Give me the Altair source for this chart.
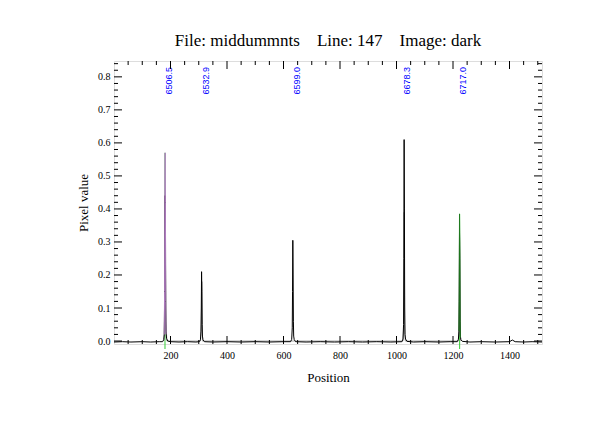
import altair as alt
import pandas as pd

# ---- data ----
spec_pos = [0, 30, 60, 100, 130, 160, 172, 176, 178, 179, 180, 181, 182, 183, 184, 186, 190,
            200, 230, 260, 290, 302, 306, 308, 309, 310, 311, 312, 313, 315, 320,
            350, 400, 450, 500, 550, 600, 625, 629, 631, 632, 633, 634, 635, 636, 638, 643,
            680, 730, 780, 830, 880, 930, 980, 1019, 1023, 1025, 1026, 1027, 1028, 1029, 1030, 1032, 1037,
            1060, 1100, 1150, 1190, 1215, 1219, 1221, 1222, 1223, 1224, 1225, 1226, 1228, 1233,
            1260, 1300, 1350, 1400, 1410, 1420, 1450, 1480, 1515]
spec_val = [-0.003, -0.002, -0.003, -0.002, -0.003, -0.002, -0.002, 0.004, 0.02, 0.12, 0.44, 0.44, 0.30, 0.10, 0.03, 0.008, 0.0,
            -0.002, -0.003, -0.002, -0.003, -0.002, 0.004, 0.03, 0.10, 0.21, 0.15, 0.05, 0.015, 0.004, -0.002,
            -0.003, -0.002, -0.003, -0.002, -0.003, -0.002, -0.002, 0.005, 0.04, 0.15, 0.305, 0.20, 0.06, 0.015, 0.004, -0.002,
            -0.003, -0.002, -0.003, -0.002, -0.003, -0.002, -0.003, -0.002, 0.006, 0.05, 0.25, 0.61, 0.40, 0.10, 0.02, 0.006, -0.001,
            -0.003, -0.002, -0.003, -0.002, -0.002, 0.005, 0.03, 0.12, 0.33, 0.25, 0.06, 0.015, 0.004, -0.001,
            -0.003, -0.002, -0.003, -0.002, 0.003, -0.002, -0.003, -0.002, -0.003]

purple_pos = [178, 179, 180, 181, 182, 183, 184]
purple_val = [0.02, 0.15, 0.50, 0.57, 0.42, 0.12, 0.02]

green_pos = [1221, 1222, 1223, 1224, 1225, 1226]
green_val = [0.03, 0.15, 0.385, 0.30, 0.07, 0.01]

grey_pos = [177, 180, 182, 184, 187, 306, 309, 311, 313, 1023, 1026, 1027, 1029, 1031, 1219, 1222, 1223, 1225, 1227]
grey_val = [0.0, 0.10, 0.39, 0.06, 0.0, 0.0, 0.05, 0.18, 0.0, 0.0, 0.05, 0.39, 0.05, 0.0, 0.0, 0.05, 0.25, 0.03, 0.0]

marker_pos = [180.5, 1223.5]
marker_top = [0.57, 0.385]

line_pos = [180.5, 310.5, 633.5, 1022.5, 1220.5]
line_lbl = ["6506.5", "6532.9", "6599.0", "6678.3", "6717.0"]

x_major = [200, 400, 600, 800, 1000, 1200, 1400]
x_minor = [v for v in range(50, 1515, 50) if v % 200 != 0]
y_major = [0.0, 0.1, 0.2, 0.3, 0.4, 0.5, 0.6, 0.7, 0.8]
y_minor = [0.02, 0.04, 0.06, 0.08, 0.12, 0.14, 0.16, 0.18, 0.22, 0.24, 0.26, 0.28,
           0.32, 0.34, 0.36, 0.38, 0.42, 0.44, 0.46, 0.48, 0.52, 0.54, 0.56, 0.58,
           0.62, 0.64, 0.66, 0.68, 0.72, 0.74, 0.76, 0.78, 0.82, 0.84]

title_text = "File: middummnts\u00a0\u00a0\u00a0\u00a0Line: 147\u00a0\u00a0\u00a0\u00a0Image: dark"

W, H = 428, 283
XD = [0, 1515]
YD = [-0.009, 0.848]
xs = alt.Scale(domain=XD, nice=False, zero=False)
ys = alt.Scale(domain=YD, nice=False, zero=False)
FONT = "Liberation Serif"

XAX = alt.Axis(values=x_major, format="d", ticks=False, domain=False, grid=False,
               labelFont=FONT, labelFontSize=10, labelColor="black",
               labelPadding=6, titleFont=FONT, titleFontSize=13,
               titleFontWeight="normal", titleColor="black", titlePadding=11)
YAX = alt.Axis(values=y_major, format=".1f", ticks=False, domain=False, grid=False,
               labelFont=FONT, labelFontSize=10, labelColor="black",
               labelPadding=4, titleFont=FONT, titleFontSize=13,
               titleFontWeight="normal", titleColor="black", titlePadding=7)


def X(f="pos"):
    return alt.X(f"{f}:Q", scale=xs, axis=XAX, title="Position")


def Y(f="val"):
    return alt.Y(f"{f}:Q", scale=ys, axis=YAX, title="Pixel value")


spec = pd.DataFrame({"pos": spec_pos, "val": spec_val})
purple = pd.DataFrame({"pos": purple_pos, "val": purple_val})
green = pd.DataFrame({"pos": green_pos, "val": green_val})
grey = pd.DataFrame({"pos": grey_pos, "val": grey_val})
markers = pd.DataFrame({"pos": marker_pos, "val": marker_top})
labels = pd.DataFrame({"pos": line_pos, "lbl": line_lbl})


def ov(df, color, width=1.0):
    return alt.Chart(df).mark_line(color=color, strokeWidth=width, clip=True).encode(x=X(), y=Y())


base_line = ov(spec, "black")
grey_l = ov(grey, "#a8a8a8")
purple_l = ov(purple, "#b07cc0")
green_l = ov(green, "#1f7a1f")

mk = alt.Chart(markers).mark_rule(color="#33cc33", strokeWidth=1).encode(
    x=X(), y=Y(), y2=alt.value(H + 5),
)

txt = alt.Chart(labels).mark_text(color="#0000ff", font="Liberation Sans", fontSize=9,
                                  angle=270, align="right", baseline="top").encode(
    x=X(), y=alt.value(6), text="lbl:N",
)


def xt(vals, ln):
    d = pd.DataFrame({"pos": vals})
    b = alt.Chart(d).mark_rule(color="black", strokeWidth=1)
    bottom = b.encode(x=X(), y=alt.value(H), y2=alt.value(H - ln))
    top = b.encode(x=X(), y=alt.value(0), y2=alt.value(ln))
    return [bottom, top]


def yt(vals, ln):
    d = pd.DataFrame({"val": vals})
    b = alt.Chart(d).mark_rule(color="black", strokeWidth=1)
    left = b.encode(y=Y(), x=alt.value(0), x2=alt.value(ln))
    right = b.encode(y=Y(), x=alt.value(W), x2=alt.value(W - ln))
    return [left, right]


ticks = xt(x_major, 8) + xt(x_minor, 4) + yt(y_major, 8) + yt(y_minor, 4)

chart = alt.layer(mk, grey_l, base_line, purple_l, green_l, txt, *ticks).properties(
    width=W, height=H,
    title=alt.Title(title_text, font=FONT, fontSize=17, fontWeight="normal",
                    color="black", anchor="middle", offset=11),
    autosize=alt.AutoSizeParams(type="none"),
    padding={"left": 106, "top": 53, "right": 40, "bottom": 66},
).configure_view(stroke="black", strokeWidth=1).configure(background="white")

chart.save("out.html", embed_options={"renderer": "svg", "actions": False})
